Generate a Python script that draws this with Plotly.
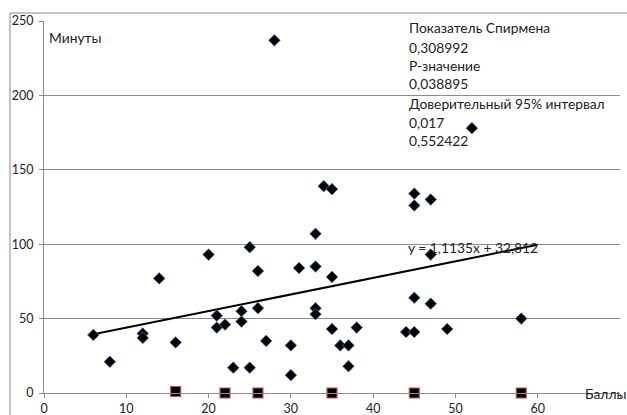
import plotly.graph_objects as go

# Scores (Баллы) and minutes (Минуты)
ballы_x = [6, 8, 12, 12, 14, 16, 20, 21, 21, 22, 23, 24, 24, 25, 25, 26, 26, 27,
           28, 30, 30, 31, 33, 33, 33, 33, 34, 35, 35, 35, 36, 37, 37, 38,
           44, 45, 45, 45, 45, 47, 47, 47, 49, 52, 58]
minutes_y = [39, 21, 40, 37, 77, 34, 93, 52, 44, 46, 17, 55, 48, 98, 17, 82, 57, 35,
             237, 32, 12, 84, 107, 85, 57, 53, 139, 137, 78, 43, 32, 32, 18, 44,
             41, 134, 126, 64, 41, 130, 93, 60, 43, 178, 50]

# Zero-minute points (squares)
zero_x = [16, 22, 26, 35, 45, 58]
zero_y = [1, 0, 0, 0, 0, 0]

# Linear trend: y = 1,1135x + 32,812
slope = 1.1135
intercept = 32.812
trend_x = [6, 60]

stats_lines = ["Показатель Спирмена", "0,308992", "Р-значение", "0,038895",
               "Доверительный 95% интервал", "0,017", "0,552422"]

FONT = "Lato"
GRID = "#8c8c8c"
TXT = 13.8

fig = go.Figure()
fig.add_trace(go.Scatter(
    x=trend_x, y=[slope * v + intercept for v in trend_x], mode="lines",
    line=dict(color="black", width=2), hoverinfo="skip", showlegend=False))
fig.add_trace(go.Scatter(
    x=ballы_x, y=minutes_y, mode="markers",
    marker=dict(symbol="diamond", size=9, color="black",
                line=dict(color="rgba(79,129,189,0.7)", width=1)),
    showlegend=False))
fig.add_trace(go.Scatter(
    x=zero_x, y=zero_y, mode="markers", cliponaxis=False,
    marker=dict(symbol="square", size=10, color="black",
                line=dict(color="#c0504d", width=1.2)),
    showlegend=False))

W, H = 627, 415
L, R, T, B = 44, 7, 21, 22
ph = H - T - B
pw = W - L - R

def px_to_paper(xp, yp):
    return (xp - L) / pw, (H - B - yp) / ph

annotations = []
ys = [28, 47, 65.5, 84, 103, 122, 140]
for txt, yp in zip(stats_lines, ys):
    xpp, ypp = px_to_paper(407, yp)
    annotations.append(dict(text=txt, x=xpp, y=ypp, xref="paper", yref="paper",
                            xanchor="left", yanchor="middle", showarrow=False,
                            font=dict(family=FONT, size=TXT, color="#222")))
for txt, xp, yp in [("Минуты", 47, 38), ("Баллы", 583, 393), ("y = 1,1135x + 32,812", 406, 247)]:
    xpp, ypp = px_to_paper(xp, yp)
    annotations.append(dict(text=txt, x=xpp, y=ypp, xref="paper", yref="paper",
                            xanchor="left", yanchor="middle", showarrow=False,
                            font=dict(family=FONT, size=TXT, color="#222")))

bx0, _ = px_to_paper(10, 0)
_, by1 = px_to_paper(0, 13)
shapes = [
    dict(type="line", xref="paper", yref="paper", x0=bx0, x1=1.2, y0=by1, y1=by1,
         line=dict(color="#868686", width=1)),
    dict(type="line", xref="paper", yref="paper", x0=bx0, x1=bx0, y0=-0.2, y1=by1,
         line=dict(color="#868686", width=1)),
]

fig.update_layout(
    width=W, height=H, margin=dict(l=L, r=R, t=T, b=B, autoexpand=False),
    paper_bgcolor="white", plot_bgcolor="white",
    annotations=annotations, shapes=shapes,
    font=dict(family=FONT, size=12, color="#222"),
    xaxis=dict(range=[0, 70], dtick=10, showgrid=False, zeroline=False,
               showline=True, linecolor=GRID, linewidth=1, automargin=False,
               ticks="outside", ticklen=4, tickcolor=GRID,
               tickfont=dict(family=FONT, size=12.5, color="#222")),
    yaxis=dict(range=[0, 250], dtick=50, showgrid=True, gridcolor=GRID, gridwidth=1,
               zeroline=False, showline=True, linecolor=GRID, linewidth=1, automargin=False,
               ticks="outside", ticklen=4, tickcolor=GRID, ticklabelstandoff=3,
               tickfont=dict(family=FONT, size=12.5, color="#222")),
)

fig.write_html("out.html")
